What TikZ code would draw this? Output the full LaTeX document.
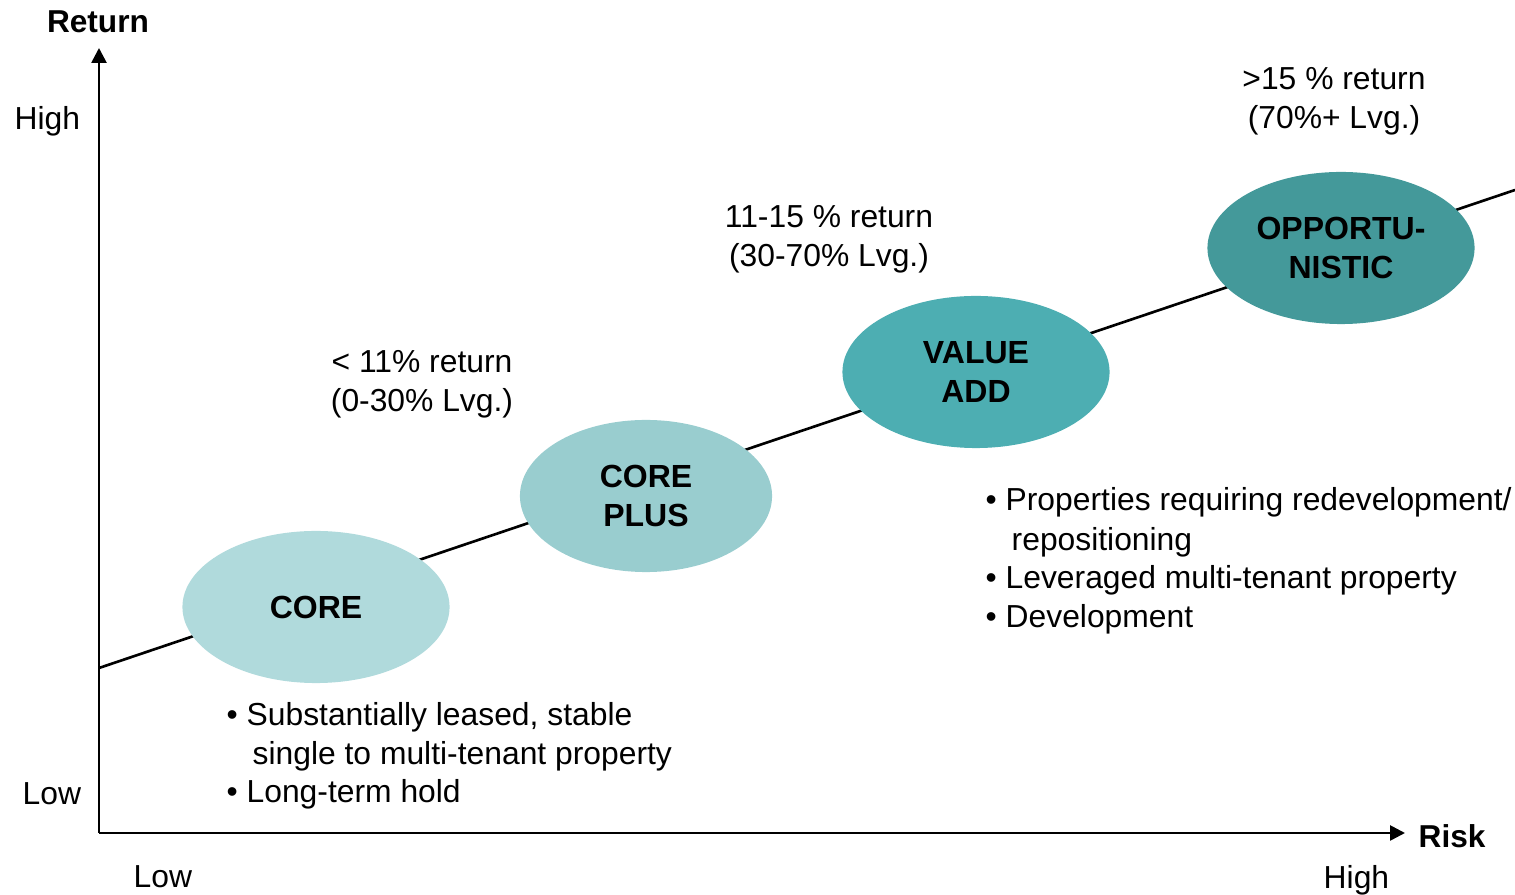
\documentclass[tikz,border=0pt]{standalone}
\usepackage{fontspec}
\setmainfont{Liberation Sans}
\usetikzlibrary{shapes.geometric,arrows.meta}
\definecolor{coreC}{HTML}{B0DADC}
\definecolor{plusC}{HTML}{99CDCF}
\definecolor{valueC}{HTML}{4DAEB2}
\definecolor{oppC}{HTML}{44999A}
\tikzset{
  blob/.style={ellipse, minimum width=2.67cm, minimum height=1.52cm, inner sep=0pt, align=center,
    font=\fontsize{9.1}{11.2}\selectfont\bfseries},
  axislabel/.style={inner sep=0pt, font=\fontsize{9}{10.8}\selectfont\bfseries},
  txt/.style={inner sep=0pt, font=\fontsize{9.05}{11.1}\selectfont},
  mtxt/.style={txt, align=center},
  btxt/.style={txt, align=left, anchor=west},
  axis/.style={line width=0.75pt, -{Triangle[length=0.15cm,width=0.15cm]}},
  trend/.style={line width=0.75pt}
}
\begin{document}
\begin{tikzpicture}[x=0.01cm, y=-0.01cm]
\useasboundingbox (0,0) rectangle (1515,895);
\coordinate (O) at (99,833);
\coordinate (ytip) at (99,48);
\coordinate (xtip) at (1405,833);
\coordinate (ts) at (99,668);
\coordinate (te) at (1515,190);
\draw[axis] (O) -- (ytip);
\draw[axis] (O) -- (xtip);
\draw[trend] (ts) -- (te);
\node[blob, fill=coreC] (core) at (316,607) {CORE};
\node[blob, fill=plusC, minimum width=2.52cm] (plus) at (646,496) {CORE\\PLUS};
\node[blob, fill=valueC] (value) at (976,372) {VALUE\\ADD};
\node[blob, fill=oppC] (opp) at (1341,248) {OPPORTU-\\NISTIC};
\node[axislabel] (ret) at (98,22) {Return};
\node[axislabel, anchor=west] (risk) at (1418,836) {Risk};
\node[txt, anchor=west] (yhigh) at (14,121) {High};
\node[txt, anchor=west] (ylow) at (22,794) {Low};
\node[txt, anchor=west] (xlow) at (133,877) {Low};
\node[txt, anchor=west] (xhigh) at (1323,880) {High};
\node[mtxt] (r1) at (422,384) {< 11\% return\\(0-30\% Lvg.)};
\node[mtxt] (r2) at (829,239) {11-15 \% return\\(30-70\% Lvg.)};
\node[mtxt] (r3) at (1334,101) {>15 \% return\\(70\%+ Lvg.)};
\node[btxt] (b1) at (226,717) {• Substantially leased, stable};
\node[btxt] (b2) at (252,756) {single to multi-tenant property};
\node[btxt] (b3) at (226,794) {• Long-term hold};
\node[btxt] (v1) at (985,502) {• Properties requiring redevelopment/};
\node[btxt] (v2) at (1011,542) {repositioning};
\node[btxt] (v3) at (985,580) {• Leveraged multi-tenant property};
\node[btxt] (v4) at (985,619) {• Development};
\end{tikzpicture}
\end{document}
